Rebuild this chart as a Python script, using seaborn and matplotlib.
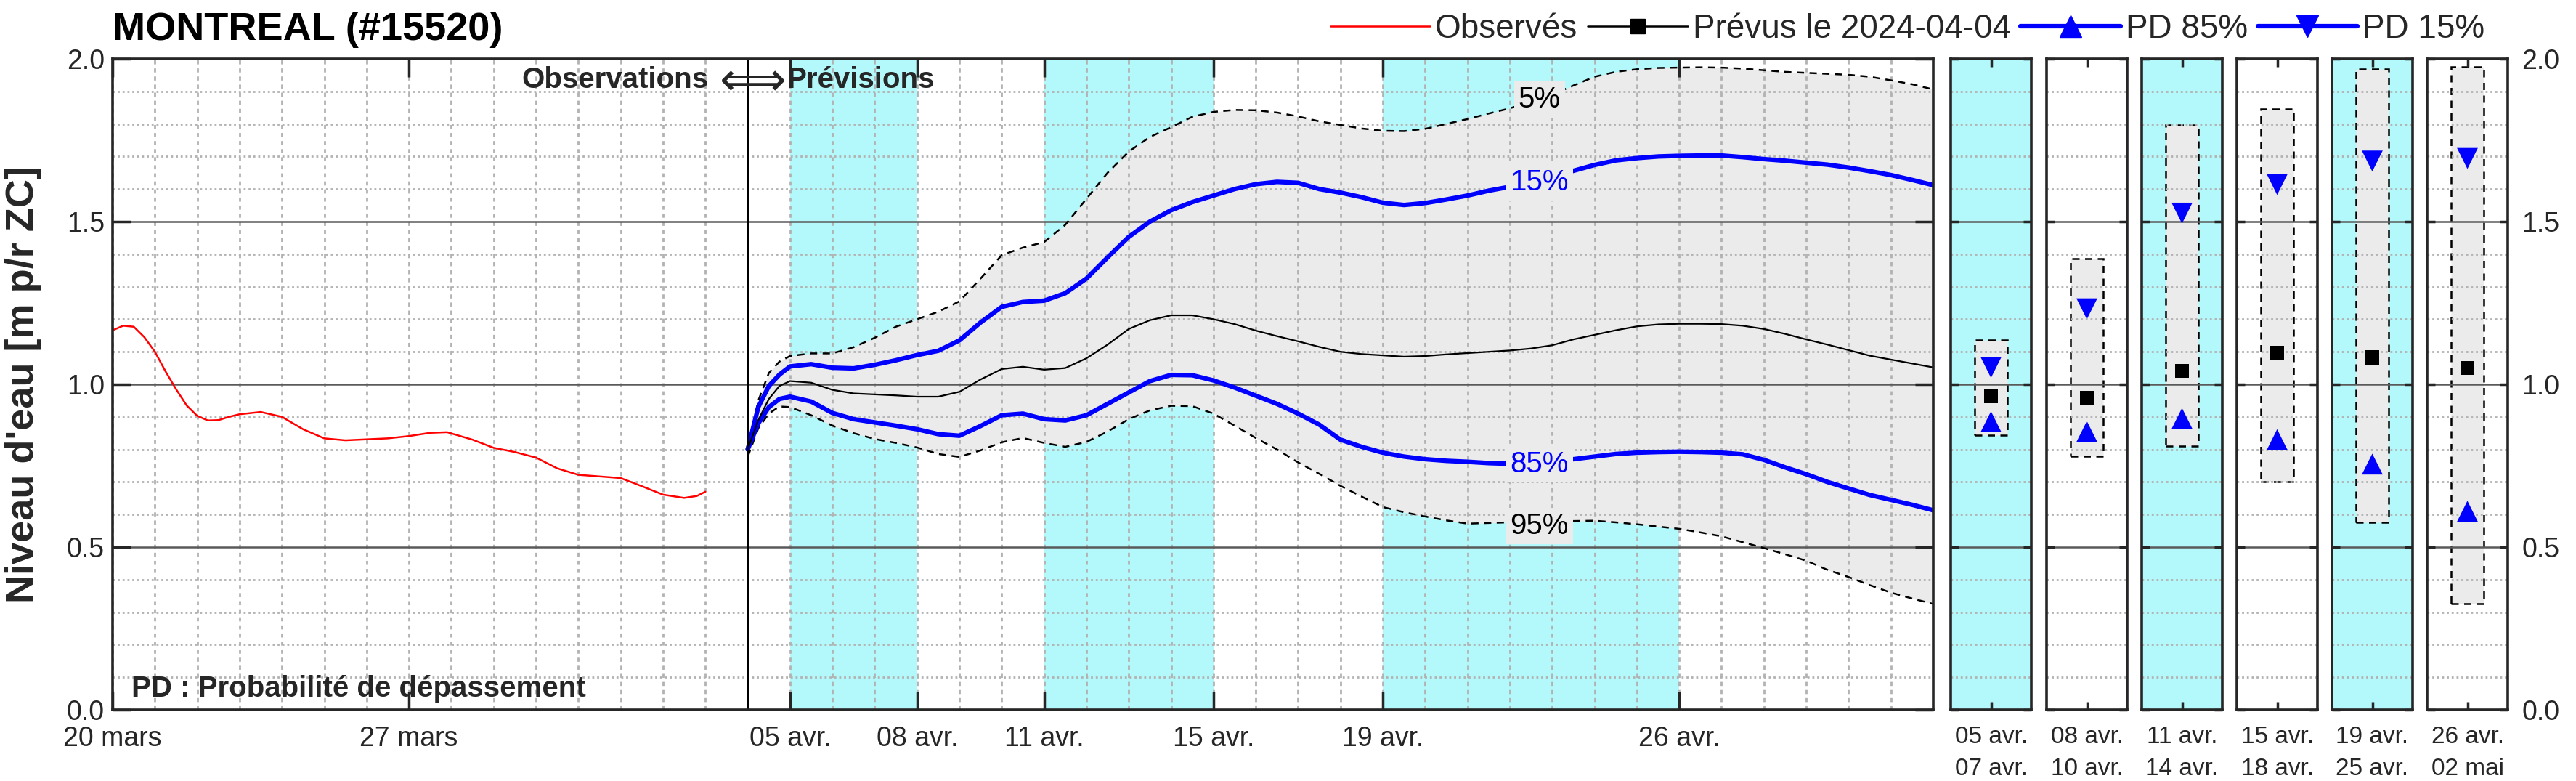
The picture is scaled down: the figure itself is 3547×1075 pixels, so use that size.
import numpy as np
import matplotlib
matplotlib.use("Agg")
import matplotlib.pyplot as plt
import seaborn as sns
from matplotlib.ticker import MultipleLocator, FixedLocator
from matplotlib.patches import Rectangle
from matplotlib.lines import Line2D
from matplotlib.transforms import offset_copy

sns.set_style("ticks")
plt.rcParams['font.family'] = ['Liberation Sans', 'DejaVu Sans']

# ---------------- data ----------------
station_title = "MONTREAL (#15520)"
y_label = "Niveau d'eau [m p/r ZC]"

# observed levels (days since 20 mars)
obs_day = [0, 0.25, 0.5, 0.75, 1.0, 1.25, 1.5, 1.75, 2.0, 2.25, 2.5, 2.75, 3.0, 3.5,
           4.0, 4.5, 5.0, 5.5, 6.0, 6.5, 7.0, 7.5, 7.9, 8.5, 9.0, 9.5, 10.0, 10.5,
           11.0, 11.5, 12.0, 12.5, 13.0, 13.5, 13.8, 14.0]
obs_level = [1.166, 1.18, 1.177, 1.145, 1.10, 1.04, 0.985, 0.935, 0.903, 0.889, 0.89, 0.90,
             0.908, 0.915, 0.90, 0.862, 0.834, 0.828, 0.831, 0.834, 0.841, 0.851, 0.853,
             0.83, 0.805, 0.792, 0.775, 0.742, 0.722, 0.717, 0.712, 0.687, 0.661, 0.651,
             0.657, 0.67]

forecast_start = 15  # 04 avr.
# forecast offsets (days since 04 avr.)
fc_offset = [0, 0.25, 0.5, 0.75, 1.0, 1.5, 2.0, 2.5, 3.0, 3.5, 4.0, 4.5, 5.0, 5.5, 6.0,
             6.5, 7.0, 7.5, 8.0, 8.5, 9.0, 9.5, 10.0, 10.5, 11.0, 11.5, 12.0, 12.5, 13.0,
             13.5, 14.0, 14.5, 15.0, 15.5, 16.0, 16.5, 17.0, 17.5, 18.0, 18.5, 19.0, 19.5,
             20.0, 20.5, 21.0, 21.5, 22.0, 22.5, 23.0, 23.5, 24.0, 24.5, 25.0, 25.5, 26.0,
             26.5, 27.0, 27.5, 28.0]
p05 = [0.80, 0.95, 1.035, 1.07, 1.087, 1.095, 1.095, 1.114, 1.143, 1.177, 1.20, 1.223, 1.255,
       1.325, 1.397, 1.42, 1.437, 1.49, 1.57, 1.65, 1.715, 1.76, 1.79, 1.822, 1.837, 1.843,
       1.842, 1.835, 1.823, 1.808, 1.797, 1.786, 1.779, 1.778, 1.785, 1.80, 1.815, 1.832,
       1.848, 1.868, 1.89, 1.918, 1.945, 1.96, 1.968, 1.972, 1.973, 1.974, 1.973, 1.97,
       1.965, 1.96, 1.957, 1.954, 1.951, 1.945, 1.934, 1.922, 1.906]
p15 = [0.80, 0.93, 0.995, 1.03, 1.055, 1.062, 1.051, 1.049, 1.06, 1.074, 1.09, 1.103, 1.135,
       1.19, 1.238, 1.253, 1.257, 1.28, 1.325, 1.39, 1.453, 1.50, 1.535, 1.56, 1.58, 1.60,
       1.615, 1.622, 1.619, 1.60, 1.589, 1.575, 1.558, 1.551, 1.557, 1.568, 1.58, 1.595,
       1.607, 1.62, 1.64, 1.656, 1.674, 1.688, 1.695, 1.70, 1.702, 1.703, 1.703, 1.698,
       1.692, 1.687, 1.681, 1.675, 1.666, 1.655, 1.643, 1.628, 1.612]
p50 = [0.80, 0.89, 0.955, 0.995, 1.01, 1.005, 0.983, 0.972, 0.969, 0.966, 0.962, 0.962, 0.977,
       1.015, 1.047, 1.054, 1.045, 1.05, 1.08, 1.122, 1.17, 1.197, 1.212, 1.212, 1.20, 1.185,
       1.165, 1.148, 1.132, 1.115, 1.10, 1.093, 1.089, 1.085, 1.087, 1.092, 1.096, 1.10,
       1.104, 1.11, 1.12, 1.138, 1.152, 1.166, 1.178, 1.184, 1.186, 1.186, 1.185, 1.18,
       1.17, 1.155, 1.138, 1.122, 1.105, 1.088, 1.076, 1.064, 1.052]
p85 = [0.80, 0.88, 0.93, 0.955, 0.962, 0.947, 0.912, 0.893, 0.883, 0.873, 0.862, 0.847, 0.842,
       0.872, 0.905, 0.91, 0.893, 0.889, 0.905, 0.94, 0.975, 1.01, 1.029, 1.028, 1.012, 0.99,
       0.965, 0.94, 0.91, 0.876, 0.83, 0.808, 0.79, 0.778, 0.77, 0.765, 0.762, 0.758, 0.756,
       0.757, 0.762, 0.77, 0.778, 0.786, 0.79, 0.792, 0.793, 0.792, 0.79, 0.785, 0.768,
       0.745, 0.724, 0.70, 0.68, 0.66, 0.645, 0.63, 0.613]
p95 = [0.777, 0.865, 0.91, 0.932, 0.93, 0.905, 0.873, 0.85, 0.832, 0.82, 0.806, 0.786, 0.777,
       0.797, 0.822, 0.835, 0.82, 0.808, 0.823, 0.855, 0.893, 0.92, 0.934, 0.933, 0.91, 0.873,
       0.835, 0.80, 0.76, 0.725, 0.688, 0.655, 0.623, 0.607, 0.594, 0.582, 0.572, 0.574,
       0.576, 0.577, 0.58, 0.58, 0.581, 0.576, 0.57, 0.563, 0.556, 0.545, 0.533, 0.515,
       0.497, 0.478, 0.458, 0.43, 0.408, 0.383, 0.36, 0.342, 0.325]

xtick_days = [0, 7, 16, 19, 22, 26, 30, 37]
xtick_labels = ["20 mars", "27 mars", "05 avr.", "08 avr.", "11 avr.", "15 avr.",
                "19 avr.", "26 avr."]
band_start = [16, 22, 30]
band_end = [19, 26, 37]

pct_labels = ["5%", "15%", "85%", "95%"]
pct_label_day = 33.7
pct_label_level = [1.875, 1.62, 0.755, 0.565]
pct_label_color = ["black", "blue", "blue", "black"]

period_labels = ["05 avr.\n07 avr.", "08 avr.\n10 avr.", "11 avr.\n14 avr.",
                 "15 avr.\n18 avr.", "19 avr.\n25 avr.", "26 avr.\n02 mai"]
period_shaded = [True, False, True, False, True, False]
period_low = [0.843, 0.78, 0.81, 0.70, 0.576, 0.325]
period_high = [1.136, 1.386, 1.796, 1.845, 1.968, 1.975]
period_p85 = [0.885, 0.855, 0.895, 0.83, 0.755, 0.61]
period_p50 = [0.965, 0.959, 1.041, 1.096, 1.082, 1.05]
period_p15 = [1.052, 1.232, 1.526, 1.614, 1.686, 1.694]

# ---------------- style ----------------
CYAN = "#b3f8fa"
FILL = "#ebebeb"
SPINE = "#262626"
MAJ_GRID = "#5a5a5a"
MIN_GRID = "#b2b2b2"

fig = plt.figure(figsize=(35.47, 10.75), dpi=100)
ax = fig.add_axes([155 / 3547, 1 - 977 / 1075, (2662 - 155) / 3547, (977 - 81) / 1075])

fc_day = forecast_start + np.array(fc_offset)

for s, e in zip(band_start, band_end):
    ax.axvspan(s, e, color=CYAN, lw=0, zorder=0)
ax.fill_between(fc_day, p95, p05, color=FILL, lw=0, zorder=1)

sns.lineplot(x=obs_day, y=obs_level, ax=ax, color="red", lw=1.8, zorder=3)
sns.lineplot(x=fc_day, y=p05, ax=ax, color="black", lw=1.8, zorder=3)
sns.lineplot(x=fc_day, y=p95, ax=ax, color="black", lw=1.8, zorder=3)
sns.lineplot(x=fc_day, y=p15, ax=ax, color="blue", lw=4.5, zorder=3)
sns.lineplot(x=fc_day, y=p85, ax=ax, color="blue", lw=4.5, zorder=3)
sns.lineplot(x=fc_day, y=p50, ax=ax, color="black", lw=1.6, zorder=3)
for ln in ax.lines[1:3]:
    ln.set_linestyle((0, (4, 3)))

ax.axvline(forecast_start, color="black", lw=2.8, zorder=3.5)

ax.set_xlim(0, 43)
ax.set_ylim(0, 2)
ax.set_xlabel("")
ax.set_ylabel("")


def style_axes(a, ticklen, labelsize):
    a.yaxis.set_major_locator(MultipleLocator(0.5))
    a.yaxis.set_minor_locator(MultipleLocator(0.1))
    a.set_axisbelow(False)
    a.grid(which="major", axis="y", color=MAJ_GRID, lw=1.8, ls="-", zorder=2.5)
    a.grid(which="minor", axis="y", color=MIN_GRID, lw=2.0, ls=(0, (1, 1.4)), zorder=2.5)
    for sp in a.spines.values():
        sp.set_visible(True)
        sp.set_color(SPINE)
        sp.set_linewidth(2.6)
        sp.set_zorder(6)
    a.tick_params(which="major", direction="in", length=ticklen, width=2.5, color=SPINE,
                  top=True, right=True, labelsize=labelsize, labelcolor="#262626")
    a.tick_params(which="minor", length=0)


style_axes(ax, 18, 27)
ax.xaxis.set_major_locator(FixedLocator(xtick_days))
ax.set_xticklabels(xtick_labels)
ax.xaxis.set_minor_locator(MultipleLocator(1))
ax.grid(which="both", axis="x", color=MIN_GRID, lw=2.0, ls=(0, (2, 2)), zorder=2.5)
ax.tick_params(axis="x", pad=16)
ax.tick_params(axis="y", pad=8)
ax.set_yticks([0, 0.5, 1.0, 1.5, 2.0])
ax.set_yticklabels(["0.0", "0.5", "1.0", "1.5", "2.0"])

# percentile labels
for t, lv, c in zip(pct_labels, pct_label_level, pct_label_color):
    ax.text(pct_label_day, lv, t, color=c, fontsize=29, ha="center", va="center", zorder=5,
            bbox=dict(boxstyle="square,pad=0.15", facecolor=FILL, edgecolor="none"))

# observations / previsions
txt_y = 1.935
ax.text(forecast_start, txt_y, "Observations", ha="right", va="center", fontsize=29,
        fontweight="bold", zorder=5,
        transform=offset_copy(ax.transData, fig=fig, x=-39, y=0, units="points"))
ax.text(forecast_start, txt_y - 0.005, r"$\Longleftrightarrow$", ha="center", va="center",
        fontsize=46, zorder=5)
ax.text(forecast_start, txt_y, "Prévisions", ha="left", va="center", fontsize=29,
        fontweight="bold", zorder=5,
        transform=offset_copy(ax.transData, fig=fig, x=39, y=0, units="points"))
ax.text(0.45, 0.065, "PD : Probabilité de dépassement", ha="left", va="center",
        fontsize=29, fontweight="bold", zorder=5)

# ---------------- period panels ----------------
panel_left = [2686, 2818, 2949, 3080, 3211, 3342]
for i in range(6):
    axp = fig.add_axes([panel_left[i] / 3547, 1 - 977 / 1075, 111 / 3547, (977 - 81) / 1075])
    if period_shaded[i]:
        axp.set_facecolor(CYAN)
    axp.add_patch(Rectangle((-0.2, period_low[i]), 0.4, period_high[i] - period_low[i],
                            facecolor=FILL, edgecolor="black", lw=1.8, ls=(0, (4, 3)),
                            zorder=1))
    sns.scatterplot(x=[0], y=[period_p15[i]], ax=axp, marker="v", s=430, color="blue",
                    edgecolor="none", zorder=4)
    sns.scatterplot(x=[0], y=[period_p50[i]], ax=axp, marker="s", s=200, color="black",
                    edgecolor="none", zorder=4)
    sns.scatterplot(x=[0], y=[period_p85[i]], ax=axp, marker="^", s=430, color="blue",
                    edgecolor="none", zorder=4)
    axp.set_xlim(-0.5, 0.5)
    axp.set_ylim(0, 2)
    style_axes(axp, 8, 24)
    axp.set_xticks([0])
    axp.set_xticklabels([period_labels[i]], linespacing=1.55)
    axp.tick_params(axis="x", pad=16)
    axp.set_yticks([0, 0.5, 1.0, 1.5, 2.0])
    if i == 5:
        axp.tick_params(axis="y", labelleft=False, labelright=True, labelsize=27, pad=14)
        axp.set_yticklabels(["0.0", "0.5", "1.0", "1.5", "2.0"])
    else:
        axp.tick_params(axis="y", labelleft=False)
    axp.set_xlabel("")
    axp.set_ylabel("")

# ---------------- titles / legend ----------------
fig.text(155 / 3547, 0.962, station_title, ha="left", va="center", fontsize=39,
         fontweight="bold", color="black")
fig.text(0.009, 0.508, y_label, rotation=90, ha="center", va="center", fontsize=39,
         fontweight="bold", color="#262626")

handles = [Line2D([], [], color="red", lw=1.8),
           Line2D([], [], color="black", lw=1.8, marker="s", ms=15),
           Line2D([], [], color="blue", lw=4.5, marker="^", ms=22),
           Line2D([], [], color="blue", lw=4.5, marker="v", ms=22)]
labels = ["Observés", "Prévus le 2024-04-04", "PD 85%", "PD 15%"]
fig.legend(handles, labels, loc="center right", bbox_to_anchor=(0.971, 0.963), ncol=4,
           frameon=False, fontsize=33, handlelength=3.0, columnspacing=0.3,
           handletextpad=0.15, borderpad=0)

fig.savefig("out.png", dpi=100)
